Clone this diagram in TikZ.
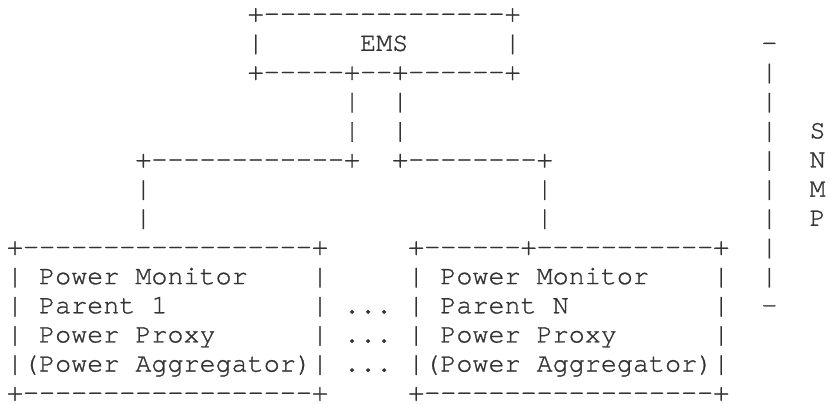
\documentclass[tikz,border=0pt]{standalone}
\usepackage{fontspec}
\setmonofont[FakeBold=1]{texgyrecursor-regular.otf}
\usetikzlibrary{calc}

% one character cell of the plain-text figure
\newcommand{\cellw}{6pt}
\newcommand{\cellh}{10.9pt}
% put a run of characters at column #1, row #2
\newcommand{\txt}[3]{%
  \node[chars] (r#2c#1) at ($(2.61pt,-8.1pt)+(#1*\cellw,-#2*\cellh)$) {#3};}

\begin{document}
\begin{tikzpicture}[
    chars/.style={anchor=base west,inner sep=0pt,outer sep=0pt,
      text=black!80,font=\fontsize{10}{10.9}\selectfont\ttfamily\bfseries}
  ]
        \useasboundingbox (0,0) rectangle (309.9pt,-150.65pt);
        % EMS box
        \txt{15}{0}{+---------------+}
        \txt{15}{1}{|}
        \txt{22}{1}{EMS}
        \txt{31}{1}{|}
        \txt{15}{2}{+-----+--+------+}
        \txt{21}{3}{|}
        \txt{24}{3}{|}
        \txt{21}{4}{|}
        \txt{24}{4}{|}
        % branches to the two parents
        \txt{8}{5}{+------------+}
        \txt{24}{5}{+--------+}
        \txt{8}{6}{|}
        \txt{33}{6}{|}
        \txt{8}{7}{|}
        \txt{33}{7}{|}
        % Parent 1
        \txt{0}{8}{+------------------+}
        \txt{0}{9}{|}
        \txt{2}{9}{Power Monitor}
        \txt{19}{9}{|}
        \txt{0}{10}{|}
        \txt{2}{10}{Parent 1}
        \txt{19}{10}{|}
        \txt{0}{11}{|}
        \txt{2}{11}{Power Proxy}
        \txt{19}{11}{|}
        \txt{0}{12}{|(Power Aggregator)|}
        \txt{0}{13}{+------------------+}
        % dots between the parents
        \txt{21}{10}{...}
        \txt{21}{11}{...}
        \txt{21}{12}{...}
        % Parent N
        \txt{25}{8}{+------+-----------+}
        \txt{25}{9}{|}
        \txt{27}{9}{Power Monitor}
        \txt{44}{9}{|}
        \txt{25}{10}{|}
        \txt{27}{10}{Parent N}
        \txt{44}{10}{|}
        \txt{25}{11}{|}
        \txt{27}{11}{Power Proxy}
        \txt{44}{11}{|}
        \txt{25}{12}{|(Power Aggregator)|}
        \txt{25}{13}{+------------------+}
        % SNMP bracket
        \txt{47}{1}{-}
        \foreach \r in {2,...,9} {\txt{47}{\r}{|}}
        \txt{47}{10}{-}
        \txt{50}{4}{S}
        \txt{50}{5}{N}
        \txt{50}{6}{M}
        \txt{50}{7}{P}
\end{tikzpicture}
\end{document}
